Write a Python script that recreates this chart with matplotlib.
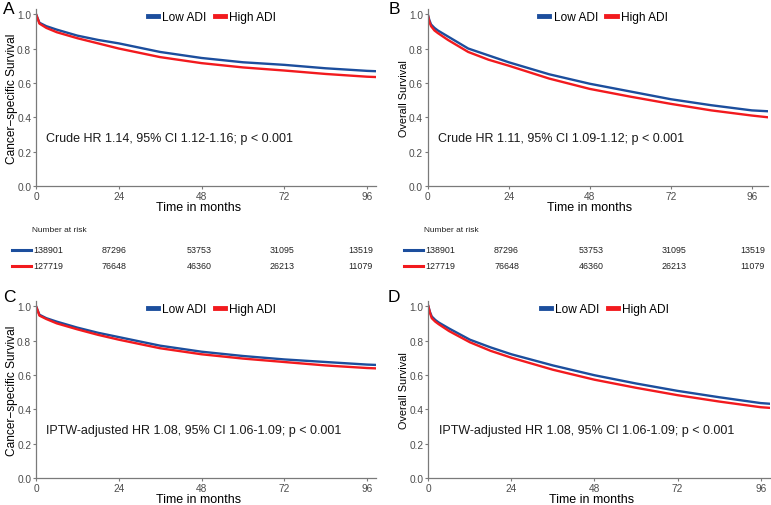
import matplotlib
matplotlib.use("Agg")
import matplotlib.pyplot as plt
from matplotlib.lines import Line2D

plt.rcParams['font.family'] = ['Liberation Sans', 'DejaVu Sans']

# survival curves (months, survival)
t_A = [0, 1, 3, 6, 12, 18, 24, 36, 48, 60, 72, 84, 96, 98.6]
low_A = [1.0, 0.95, 0.93, 0.91, 0.875, 0.85, 0.83, 0.78, 0.745, 0.72, 0.705, 0.685, 0.67, 0.668]
high_A = [1.0, 0.945, 0.92, 0.895, 0.86, 0.83, 0.80, 0.75, 0.715, 0.69, 0.672, 0.652, 0.636, 0.634]

t_B = [0, 0.5, 1, 2, 3, 6, 12, 18, 24, 36, 48, 60, 72, 84, 96, 100.7]
low_B = [1.0, 0.965, 0.94, 0.92, 0.905, 0.87, 0.80, 0.76, 0.72, 0.65, 0.595, 0.55, 0.505, 0.47, 0.44, 0.435]
high_B = [1.0, 0.955, 0.93, 0.905, 0.89, 0.85, 0.78, 0.735, 0.70, 0.625, 0.565, 0.52, 0.478, 0.44, 0.41, 0.40]

t_C = [0, 1, 3, 6, 12, 18, 24, 36, 48, 60, 72, 84, 96, 98.6]
low_C = [1.0, 0.95, 0.93, 0.91, 0.875, 0.845, 0.82, 0.77, 0.735, 0.71, 0.69, 0.675, 0.66, 0.658]
high_C = [1.0, 0.945, 0.925, 0.90, 0.865, 0.833, 0.805, 0.755, 0.72, 0.695, 0.675, 0.655, 0.64, 0.638]

t_D = [0, 0.5, 1, 2, 3, 6, 12, 18, 24, 36, 48, 60, 72, 84, 96, 98.7]
low_D = [1.0, 0.965, 0.94, 0.92, 0.905, 0.87, 0.805, 0.76, 0.72, 0.655, 0.598, 0.55, 0.507, 0.47, 0.436, 0.432]
high_D = [1.0, 0.96, 0.93, 0.91, 0.895, 0.855, 0.79, 0.74, 0.70, 0.63, 0.572, 0.525, 0.482, 0.445, 0.412, 0.408]

xticks = [0, 24, 48, 72, 96]
yticks = [0.0, 0.2, 0.4, 0.6, 0.8, 1.0]
groups = ["Low ADI", "High ADI"]
risk_low = ["138901", "87296", "53753", "31095", "13519"]
risk_high = ["127719", "76648", "46360", "26213", "11079"]

hr_text = {
    "A": "Crude HR 1.14, 95% CI 1.12-1.16; p < 0.001",
    "B": "Crude HR 1.11, 95% CI 1.09-1.12; p < 0.001",
    "C": "IPTW-adjusted HR 1.08, 95% CI 1.06-1.09; p < 0.001",
    "D": "IPTW-adjusted HR 1.08, 95% CI 1.06-1.09; p < 0.001",
}
ylabels = {"A": "Cancer\u2212specific Survival", "B": "Overall Survival",
           "C": "Cancer\u2212specific Survival", "D": "Overall Survival"}

BLUE = "#1C4E9D"
RED = "#F21A1E"
W, H = 771, 506

fig = plt.figure(figsize=(W / 100, H / 100), dpi=100)


def px(x, y):
    return x / W, 1 - y / H


# left edge px, axis-line y px, width px, x max, y-label x px
panels = {
    "A": (t_A, low_A, high_A, 36, 187, 340, 98.6, 12),
    "B": (t_B, low_B, high_B, 427.7, 187, 340, 100.7, 404),
    "C": (t_C, low_C, high_C, 36, 479, 340, 98.6, 12),
    "D": (t_D, low_D, high_D, 428.3, 479, 341.7, 98.7, 404),
}

for key, (t, lo, hi, x0, ybot, wpx, xmax, lab_x) in panels.items():
    ax = fig.add_axes([x0 / W, (H - ybot) / H, wpx / W, 177 / H])
    ax.plot(t, lo, color=BLUE, lw=1.7)
    ax.plot(t, hi, color=RED, lw=1.7)
    ax.set_xlim(0, xmax)
    ax.set_ylim(0, 1.03)
    ax.set_xticks(xticks)
    ax.set_yticks(yticks)
    ax.set_yticklabels([f"{v:.1f}" for v in yticks])
    for s in ["top", "right"]:
        ax.spines[s].set_visible(False)
    for s in ["left", "bottom"]:
        ax.spines[s].set_color("#7a7a7a")
        ax.spines[s].set_linewidth(0.9)
    ax.tick_params(length=2.5, width=0.8, color="#7a7a7a", labelsize=7.3,
                   labelcolor="#4d4d4d", pad=1)
    ax.text(0.03, 0.27, hr_text[key], transform=ax.transAxes,
            ha="left", va="center", fontsize=9, color="#1a1a1a")
    ax.text(0.477, -0.118, "Time in months", transform=ax.transAxes,
            ha="center", va="center", fontsize=9, color="black")
    fz = 8.6 if key in "AC" else 7.8
    fig.text(*px(lab_x, ybot - 88), ylabels[key], rotation=90, ha="center",
             va="center", fontsize=fz, color="black")
    handles = [Line2D([], [], color=BLUE, lw=3.5), Line2D([], [], color=RED, lw=3.5)]
    ax.legend(handles, groups, loc="center", bbox_to_anchor=(0.517, 0.955),
              ncol=2, frameon=False, fontsize=8.6, handlelength=0.85,
              handletextpad=0.35, columnspacing=0.7, borderaxespad=0)

# panel letters
for key, (x, y) in {"A": (9, 9), "B": (394, 9), "C": (9, 297), "D": (394, 297)}.items():
    fig.text(*px(x, y), key, ha="center", va="center", fontsize=12.5)

# number at risk tables
cols = [33, 102, 187, 270, 348]
for off in [0, 392]:
    fig.text(*px(32 + off, 230), "Number at risk", ha="left", va="center",
             fontsize=6, color="#222222")
    for row_y, color, vals in [(251, BLUE, risk_low), (267, RED, risk_high)]:
        fig.add_artist(Line2D([(12 + off) / W, (31 + off) / W],
                              [1 - row_y / H, 1 - row_y / H], color=color, lw=2.2))
        for cx, v in zip(cols, vals):
            fig.text(*px(cx + off, row_y), v, ha="left", va="center",
                     fontsize=6.4, color="#222222")

fig.savefig("out.png", dpi=100)
